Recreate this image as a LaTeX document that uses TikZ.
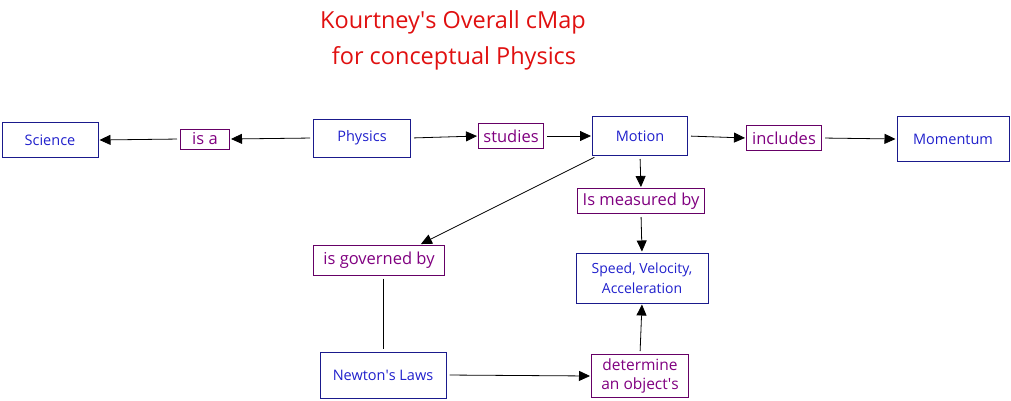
\documentclass[tikz,border=0pt]{standalone}
\usepackage{fontspec}
\setmainfont{Open Sans}
\usetikzlibrary{arrows.meta,calc}
\definecolor{cbord}{HTML}{1A1A8C}
\definecolor{ctext}{HTML}{2020CC}
\definecolor{lbord}{HTML}{660066}
\definecolor{ltext}{HTML}{800080}
\definecolor{ttl}{HTML}{E01010}
\tikzset{
  concept/.style={draw=cbord, line width=1pt, text=ctext, inner sep=0pt, align=center, font=\fontsize{14.5}{18}\selectfont},
  linkbox/.style={draw=lbord, line width=1pt, text=ltext, inner sep=0pt, align=center, font=\fontsize{16.5}{19}\selectfont},
  conn/.style={draw=black, line width=0.8pt, -{Triangle[length=11pt,width=10pt]}, shorten >=1pt, shorten <=3pt},
  plainconn/.style={draw=black, line width=0.8pt, shorten >=3pt, shorten <=3pt},
  titletext/.style={text=ttl, font=\fontsize{23.5}{27}\selectfont}
}
\begin{document}
\begin{tikzpicture}[x=1pt,y=-1pt]
\useasboundingbox (0,0) rectangle (1011,400);
\node[titletext] (t1) at (453,22) {Kourtney\textquotesingle s Overall cMap};
\node[titletext] (t2) at (454,58) {for conceptual Physics};

\node[concept, minimum width=96, minimum height=35] (sci) at (50,140) {Science};
\node[linkbox, minimum width=49, minimum height=20] (isa) at (205,139) {is a};
\node[concept, minimum width=97, minimum height=38] (phy) at (362,138) {Physics};
\node[linkbox, minimum width=65, minimum height=25] (stu) at (511,136) {studies};
\node[concept, minimum width=95, minimum height=39] (mot) at (640,136) {Motion};
\node[linkbox, minimum width=75, minimum height=25] (inc) at (784,138) {includes};
\node[concept, minimum width=112, minimum height=45] (mom) at (953,139) {Momentum};
\node[linkbox, minimum width=127, minimum height=25] (mea) at (641,201) {Is measured by};
\node[linkbox, minimum width=131, minimum height=30] (gov) at (379,260) {is governed by};
\node[concept, minimum width=132, minimum height=50, font=\fontsize{14}{20}\selectfont] (spd) at (642,278) {Speed, Velocity,\\Acceleration};
\node[concept, minimum width=126, minimum height=46] (new) at (383,375) {Newton\textquotesingle s Laws};
\node[linkbox, minimum width=97, minimum height=43, font=\fontsize{15.5}{19}\selectfont] (det) at (640,376) {determine\\an object\textquotesingle s};

\draw[conn] (phy.west) -- (isa.east);
\draw[conn] (isa.west) -- (sci.east);
\draw[conn] (phy.east) -- (stu.west);
\draw[conn] (stu.east) -- (mot.west);
\draw[conn] (mot.east) -- (inc.west);
\draw[conn] (inc.east) -- (mom.west);
\draw[conn] (mot.south) -- (mea.north);
\draw[conn] (mea.south) -- (spd.north);
\draw[conn] ($(mot.south west)+(5,0)$) -- ($(gov.north)+(41,0)$);
\draw[plainconn] ($(gov.south)+(4,0)$) -- ($(new.north)$);
\draw[conn] (new.east) -- (det.west);
\draw[conn] (det.north) -- (spd.south);
\end{tikzpicture}
\end{document}
